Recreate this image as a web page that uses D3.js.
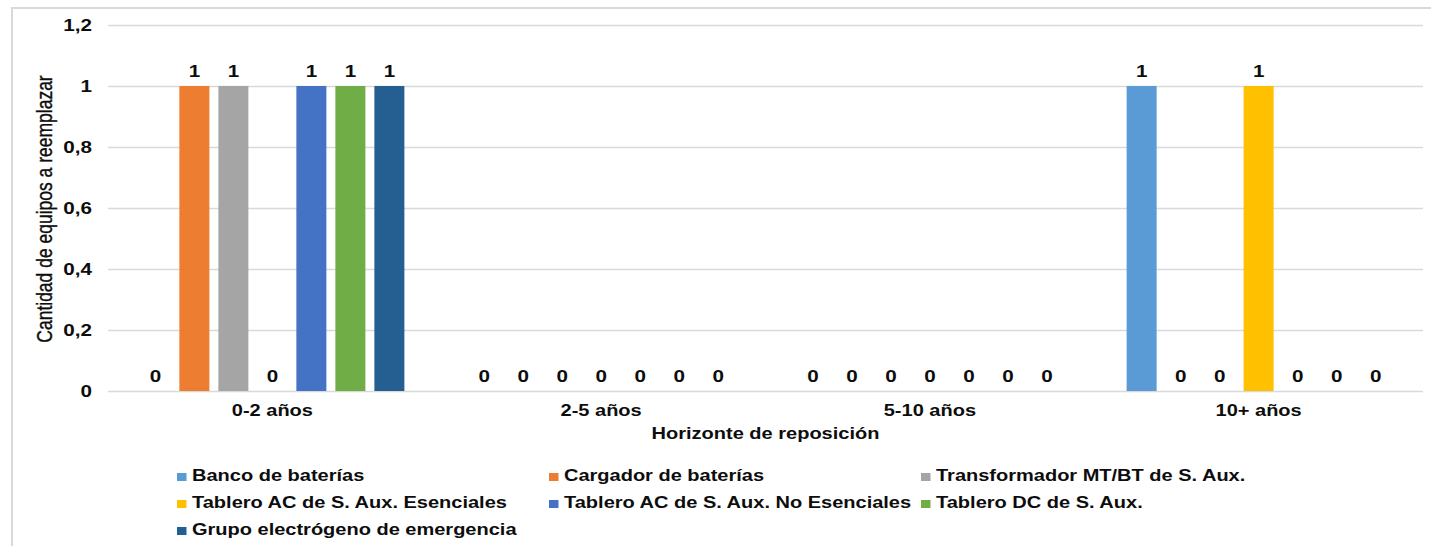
<!DOCTYPE html>
<html>
<head>
<meta charset="utf-8">
<script src="https://cdn.jsdelivr.net/npm/d3@7"></script>
<style>
  html, body { margin: 0; padding: 0; background: #fff; }
  svg { display: block; }
  text { font-family: "Liberation Sans", Arial, sans-serif; fill: #0d0d0d; }
</style>
</head>
<body>
<svg id="chart" width="1431" height="546"></svg>
<script>
const categories = ["0-2 años", "2-5 años", "5-10 años", "10+ años"];
const seriesNames = [
  "Banco de baterías",
  "Cargador de baterías",
  "Transformador MT/BT de S. Aux.",
  "Tablero AC de S. Aux. Esenciales",
  "Tablero AC de S. Aux. No Esenciales",
  "Tablero DC de S. Aux.",
  "Grupo electrógeno de emergencia"
];
const seriesColors = ["#5B9BD5", "#ED7D31", "#A5A5A5", "#FFC000", "#4472C4", "#70AD47", "#255E91"];
// one array per series, values per category
const bancoBaterias      = [0, 0, 0, 1];
const cargadorBaterias   = [1, 0, 0, 0];
const transformador      = [1, 0, 0, 0];
const tableroACEsen      = [0, 0, 0, 1];
const tableroACNoEsen    = [1, 0, 0, 0];
const tableroDC          = [1, 0, 0, 0];
const grupoElectrogeno   = [1, 0, 0, 0];
const seriesValues = [bancoBaterias, cargadorBaterias, transformador, tableroACEsen, tableroACNoEsen, tableroDC, grupoElectrogeno];
const yTicks = [0, 0.2, 0.4, 0.6, 0.8, 1, 1.2];
const yAxisTitle = "Cantidad de equipos a reemplazar";
const xAxisTitle = "Horizonte de reposición";

const SX = 1.25; // horizontal stretch of the reference's text
const svg = d3.select("#chart");
const plot = { left: 108, right: 1423, top: 25, bottom: 391 };

// outer border (only top and left visible)
svg.append("rect")
  .attr("x", 12).attr("y", 8)
  .attr("width", 1500).attr("height", 600)
  .attr("fill", "none").attr("stroke", "#d9d9d9").attr("stroke-width", 2);

const x0 = d3.scaleBand().domain(categories).range([plot.left, plot.right]).padding(0);
const x1 = d3.scaleBand().domain(d3.range(seriesNames.length))
  .range([0, x0.bandwidth()]).paddingInner(0.2308).paddingOuter(0.83);
const y = d3.scaleLinear().domain([0, 1.2]).range([plot.bottom, plot.top]);

// gridlines
svg.append("g").selectAll("line").data(yTicks).join("line")
  .attr("x1", plot.left).attr("x2", plot.right)
  .attr("y1", d => Math.round(y(d)) + 0.5).attr("y2", d => Math.round(y(d)) + 0.5)
  .attr("stroke", "#d9d9d9").attr("stroke-width", 1.3);

// y axis labels
const fmt = d => d === 0 ? "0" : String(d).replace(".", ",");
const yAxis = d3.axisLeft(y).tickValues(yTicks).tickFormat(fmt).tickSize(0).tickPadding(0);
const yg = svg.append("g").attr("transform", `translate(92,0)`).call(yAxis);
yg.select(".domain").remove();
yg.selectAll("text").attr("font-size", 16.5).attr("font-weight", "bold")
  .attr("font-family", "'Liberation Sans', Arial, sans-serif").attr("fill", "#0d0d0d")
  .attr("x", 0).attr("dy", "0.35em").attr("transform", `scale(${SX},1)`);

// x axis labels
const xAxis = d3.axisBottom(x0).tickSize(0).tickPadding(0);
const xg = svg.append("g").attr("transform", `translate(0,${plot.bottom})`).call(xAxis);
xg.select(".domain").remove();
xg.selectAll("text").attr("font-size", 16).attr("font-weight", "bold")
  .attr("font-family", "'Liberation Sans', Arial, sans-serif").attr("fill", "#0d0d0d")
  .attr("y", 25).attr("dy", 0).attr("transform", `scale(${SX},1)`);

// bars
const data = [];
categories.forEach((c, ci) => {
  seriesNames.forEach((s, si) => data.push({ c, si, v: seriesValues[si][ci] }));
});
const barsG = svg.append("g");
barsG.selectAll("rect").data(data.filter(d => d.v > 0)).join("rect")
  .attr("x", d => x0(d.c) + x1(d.si))
  .attr("y", d => y(d.v))
  .attr("width", x1.bandwidth())
  .attr("height", d => y(0) - y(d.v))
  .attr("fill", d => seriesColors[d.si]);

// value labels
barsG.selectAll("text").data(data).join("text")
  .attr("transform", d => `translate(${x0(d.c) + x1(d.si) + x1.bandwidth() / 2},${y(d.v) - 9}) scale(${SX},1)`)
  .attr("text-anchor", "middle")
  .attr("font-size", 16.5).attr("font-weight", "bold")
  .text(d => d.v);

// axis titles
svg.append("text")
  .attr("transform", `translate(52,${(plot.top + plot.bottom) / 2 + 1}) scale(${SX},1) rotate(-90)`)
  .attr("text-anchor", "middle")
  .attr("font-size", 17.5)
  .attr("stroke", "#0d0d0d").attr("stroke-width", 0.3)
  .text(yAxisTitle);

svg.append("text")
  .attr("transform", `translate(${(plot.left + plot.right) / 2},439) scale(${SX},1)`)
  .attr("text-anchor", "middle")
  .attr("font-size", 16).attr("font-weight", "bold")
  .text(xAxisTitle);

// legend
const legendCols = 3, colW = 372, legX = 177, legY = 481, rowH = 27;
const lg = svg.append("g");
const items = lg.selectAll("g").data(seriesNames).join("g")
  .attr("transform", (d, i) => `translate(${legX + (i % legendCols) * colW},${legY + Math.floor(i / legendCols) * rowH})`);
items.append("rect").attr("x", 0).attr("y", -8).attr("width", 9.5).attr("height", 8)
  .attr("fill", (d, i) => seriesColors[i]);
items.append("text").attr("transform", `translate(15,0) scale(${SX},1)`)
  .attr("font-size", 16).attr("font-weight", "bold")
  .text(d => d);
</script>
</body>
</html>
